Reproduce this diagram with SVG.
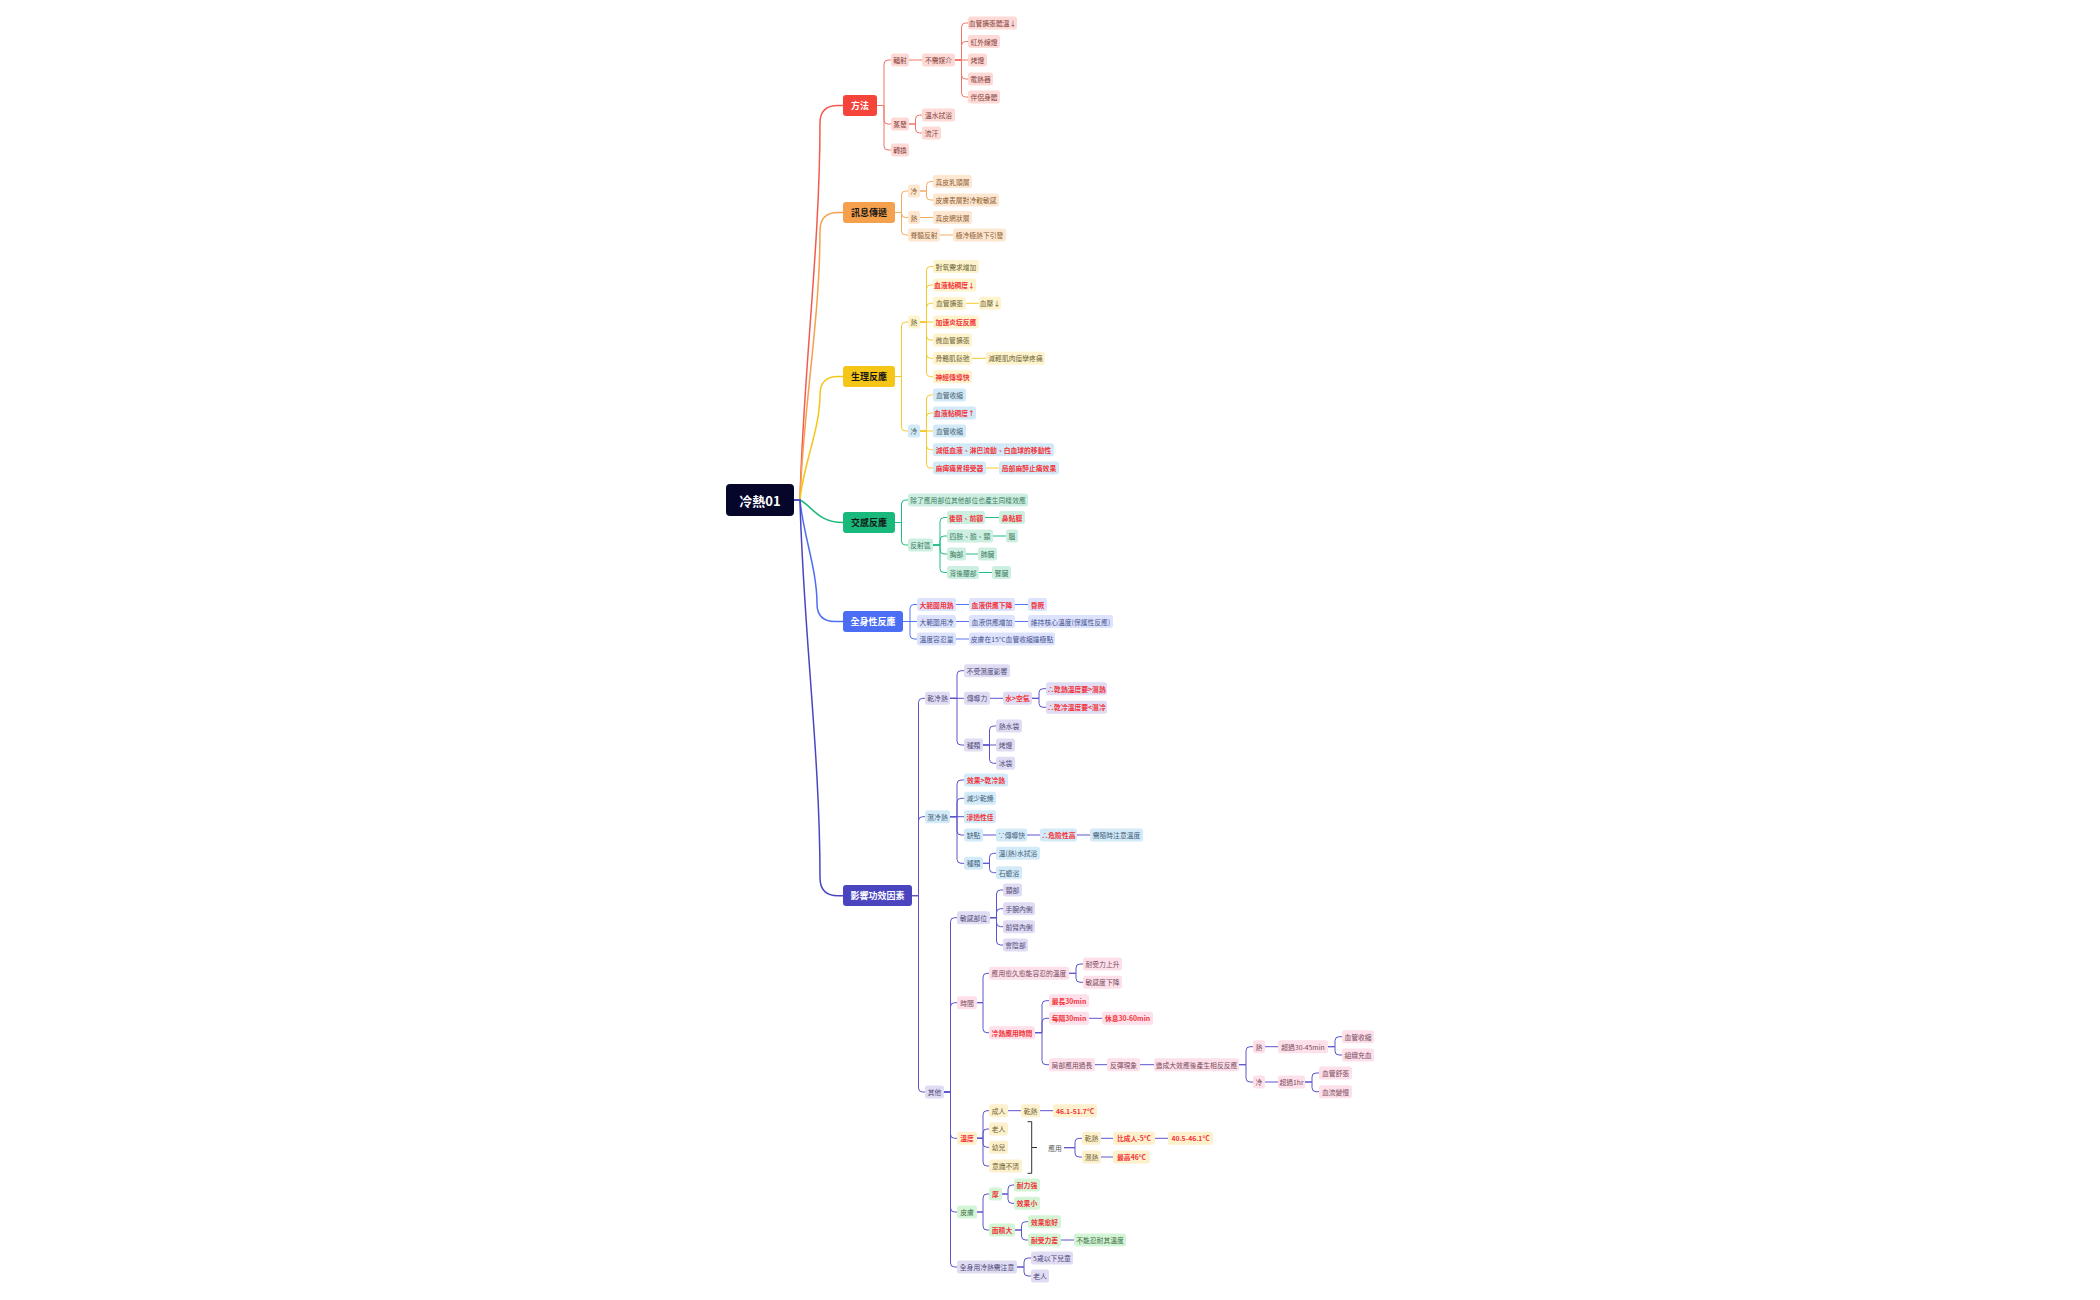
<svg xmlns="http://www.w3.org/2000/svg" width="2100" height="1300" viewBox="0 0 2100 1300">
<style>
text{font-family:"Noto Sans CJK TC","Noto Sans CJK SC",sans-serif;font-size:6.8px;text-anchor:middle;dominant-baseline:central}
.nd rect{rx:2.5px;ry:2.5px}
.main rect{rx:3px;ry:3px}
.main text{font-size:9px;font-weight:700}
.wt text{fill:#ffffff}
.bk text{fill:#161616}
.r rect{fill:#fddad6}.r text{fill:#86403a}
.o rect{fill:#fde7d1}.o text{fill:#8d5e33}
.y rect{fill:#fdf3cd}.y text{fill:#6e6435}
.b rect{fill:#d2eaf7}.b text{fill:#46606e}
.g rect{fill:#cdefe1}.g text{fill:#3a7a5e}
.bl rect{fill:#dde3fd}.bl text{fill:#45518f}
.p rect{fill:#e0dcf3}.p text{fill:#4f4a78}
.lb rect{fill:#d3ebf8}.lb text{fill:#43607a}
.k rect{fill:#fde0e9}.k text{fill:#7a4a5e}
.t rect{fill:#fdf0cc}.t text{fill:#6e6435}
.gr rect{fill:#d3f4d5}.gr text{fill:#3f6e45}
.nd text.rd{fill:#f2353b;font-weight:700}
#connectors path{fill:none;stroke-width:1}
#connectors .mainline path{stroke-width:1.5}
</style>
<rect width="2100" height="1300" fill="#ffffff"/>
<g id="connectors">
<g class="mainline">
<path d="M794 500 H800 C803 375 820 247 820 123 Q820 105.5 838 105.5 H843" stroke="#f35b4f"/>
<path d="M794 500 H800 C803 411 820 320 820 230.5 Q820 212.5 838 212.5 H843" stroke="#f5a04e"/>
<path d="M794 500 H800 C803 465 820 430 820 394.5 Q820 376.5 838 376.5 H843" stroke="#f5c518"/>
<path d="M794 500 H800 C812 506 818 522.5 843 522.5" stroke="#1cb87a"/>
<path d="M794 500 H800 C803 534 817 569 817 603.5 Q817 621.5 835 621.5 H843" stroke="#4c6ef5"/>
<path d="M794 500 H800 C803 626 820 752 820 877.7 Q820 895.7 838 895.7 H843" stroke="#4b46c0"/>
</g>
<g stroke="#f37468">
<path d="M877 105.5 H884 V64 Q884 60 888 60 H891"/>
<path d="M877 105.5 H884 V120 Q884 124 888 124 H891"/>
<path d="M877 105.5 H884 V146 Q884 150 888 150 H891"/>
<path d="M909 60 H922"/>
<path d="M955 60 H961.5 V27 Q961.5 23 965.5 23 H968"/>
<path d="M955 60 H961.5 V45.5 Q961.5 41.5 965.5 41.5 H968"/>
<path d="M955 60 H968"/>
<path d="M955 60 H961.5 V75 Q961.5 79 965.5 79 H968"/>
<path d="M955 60 H961.5 V93 Q961.5 97 965.5 97 H968"/>
<path d="M909 124 H915.5 V119 Q915.5 115 919.5 115 H922"/>
<path d="M909 124 H915.5 V129 Q915.5 133 919.5 133 H922"/>
</g>
<g stroke="#f5aa62">
<path d="M895 212.5 H901.5 V195 Q901.5 191 905.5 191 H908"/>
<path d="M895 212.5 H901.5 V213.5 Q901.5 217.5 905.5 217.5 H908"/>
<path d="M895 212.5 H901.5 V231 Q901.5 235 905.5 235 H908"/>
<path d="M920 191 H926.5 V185.5 Q926.5 181.5 930.5 181.5 H933"/>
<path d="M920 191 H926.5 V196 Q926.5 200 930.5 200 H933"/>
<path d="M920 217.5 H933"/>
<path d="M940 235 H953"/>
</g>
<g stroke="#f5c92e">
<path d="M895 376.5 H901.5 V326 Q901.5 322 905.5 322 H908"/>
<path d="M895 376.5 H901.5 V427 Q901.5 431 905.5 431 H908"/>
<path d="M920 322 H926.5 V270.5 Q926.5 266.5 930.5 266.5 H933"/>
<path d="M920 322 H926.5 V289 Q926.5 285 930.5 285 H933"/>
<path d="M920 322 H926.5 V307.3 Q926.5 303.3 930.5 303.3 H933"/>
<path d="M920 322 H933"/>
<path d="M920 322 H926.5 V336 Q926.5 340 930.5 340 H933"/>
<path d="M920 322 H926.5 V354.3 Q926.5 358.3 930.5 358.3 H933"/>
<path d="M920 322 H926.5 V372.7 Q926.5 376.7 930.5 376.7 H933"/>
<path d="M920 431 H926.5 V399 Q926.5 395 930.5 395 H933"/>
<path d="M920 431 H926.5 V417 Q926.5 413 930.5 413 H933"/>
<path d="M920 431 H933"/>
<path d="M920 431 H926.5 V445.7 Q926.5 449.7 930.5 449.7 H933"/>
<path d="M920 431 H926.5 V464 Q926.5 468 930.5 468 H933"/>
<path d="M966 303.3 H979"/>
<path d="M972 358.3 H986"/>
<path d="M986 468 H999"/>
</g>
<g stroke="#22bd82">
<path d="M895 522.5 H901.5 V504 Q901.5 500 905.5 500 H908"/>
<path d="M895 522.5 H901.5 V541 Q901.5 545 905.5 545 H908"/>
<path d="M933 545 H940 V521.5 Q940 517.5 944 517.5 H947"/>
<path d="M933 545 H940 V540 Q940 536 944 536 H947"/>
<path d="M933 545 H940 V550 Q940 554 944 554 H947"/>
<path d="M933 545 H940 V568.5 Q940 572.5 944 572.5 H947"/>
<path d="M985 517.5 H999"/>
<path d="M993 536 H1006"/>
<path d="M966 554 H978"/>
<path d="M979 572.5 H992"/>
</g>
<g stroke="#5676f5">
<path d="M903 621.5 H910 V608.5 Q910 604.5 914 604.5 H917"/>
<path d="M903 621.5 H917"/>
<path d="M903 621.5 H910 V635 Q910 639 914 639 H917"/>
<path d="M956 604.5 H969"/>
<path d="M1015 604.5 H1028"/>
<path d="M956 621.5 H969"/>
<path d="M1015 621.5 H1028"/>
<path d="M956 639 H969"/>
</g>
<g stroke="#5d54cb">
<path d="M912 895.7 H918.5 V702.3 Q918.5 698.3 922.5 698.3 H925"/>
<path d="M912 895.7 H918.5 V820.7 Q918.5 816.7 922.5 816.7 H925"/>
<path d="M912 895.7 H918.5 V1088 Q918.5 1092 922.5 1092 H925"/>
<path d="M950 698.3 H957 V674.7 Q957 670.7 961 670.7 H964"/>
<path d="M950 698.3 H964"/>
<path d="M950 698.3 H957 V741 Q957 745 961 745 H964"/>
<path d="M990 698.3 H1003"/>
<path d="M1032 698.3 H1039 V692.7 Q1039 688.7 1043 688.7 H1046"/>
<path d="M1032 698.3 H1039 V703.3 Q1039 707.3 1043 707.3 H1046"/>
<path d="M983 745 H989.5 V730 Q989.5 726 993.5 726 H996"/>
<path d="M983 745 H996"/>
<path d="M983 745 H989.5 V759.3 Q989.5 763.3 993.5 763.3 H996"/>
<path d="M950 816.7 H957 V784 Q957 780 961 780 H964"/>
<path d="M950 816.7 H957 V802.3 Q957 798.3 961 798.3 H964"/>
<path d="M950 816.7 H964"/>
<path d="M950 816.7 H957 V831 Q957 835 961 835 H964"/>
<path d="M950 816.7 H957 V859.3 Q957 863.3 961 863.3 H964"/>
<path d="M983 835 H996"/>
<path d="M1027 835 H1040"/>
<path d="M1077 835 H1090"/>
<path d="M983 863.3 H989.5 V857.3 Q989.5 853.3 993.5 853.3 H996"/>
<path d="M983 863.3 H989.5 V868.7 Q989.5 872.7 993.5 872.7 H996"/>
<path d="M944 1092 H950.5 V921.7 Q950.5 917.7 954.5 917.7 H957"/>
<path d="M944 1092 H950.5 V1006.7 Q950.5 1002.7 954.5 1002.7 H957"/>
<path d="M944 1092 H950.5 V1134.3 Q950.5 1138.3 954.5 1138.3 H957"/>
<path d="M944 1092 H950.5 V1208 Q950.5 1212 954.5 1212 H957"/>
<path d="M944 1092 H950.5 V1263 Q950.5 1267 954.5 1267 H957"/>
<path d="M990 917.7 H996.5 V894 Q996.5 890 1000.5 890 H1003"/>
<path d="M990 917.7 H996.5 V912.7 Q996.5 908.7 1000.5 908.7 H1003"/>
<path d="M990 917.7 H996.5 V922.7 Q996.5 926.7 1000.5 926.7 H1003"/>
<path d="M990 917.7 H996.5 V941 Q996.5 945 1000.5 945 H1003"/>
<path d="M977 1002.7 H983 V977.3 Q983 973.3 987 973.3 H989"/>
<path d="M977 1002.7 H983 V1028.7 Q983 1032.7 987 1032.7 H989"/>
<path d="M1069 973.3 H1076 V968 Q1076 964 1080 964 H1083"/>
<path d="M1069 973.3 H1076 V978.3 Q1076 982.3 1080 982.3 H1083"/>
<path d="M1035 1032.7 H1042 V1004.7 Q1042 1000.7 1046 1000.7 H1049"/>
<path d="M1035 1032.7 H1042 V1022.3 Q1042 1018.3 1046 1018.3 H1049"/>
<path d="M1035 1032.7 H1042 V1060.7 Q1042 1064.7 1046 1064.7 H1049"/>
<path d="M1089 1018.3 H1102"/>
<path d="M1095 1064.7 H1107"/>
<path d="M1140 1064.7 H1154"/>
<path d="M1239 1064.7 H1246 V1050.7 Q1246 1046.7 1250 1046.7 H1253"/>
<path d="M1239 1064.7 H1246 V1078 Q1246 1082 1250 1082 H1253"/>
<path d="M1265 1046.7 H1278"/>
<path d="M1328 1046.7 H1335 V1040.7 Q1335 1036.7 1339 1036.7 H1342"/>
<path d="M1328 1046.7 H1335 V1051 Q1335 1055 1339 1055 H1342"/>
<path d="M1265 1082 H1278"/>
<path d="M1305 1082 H1312 V1077 Q1312 1073 1316 1073 H1319"/>
<path d="M1305 1082 H1312 V1087.7 Q1312 1091.7 1316 1091.7 H1319"/>
<path d="M977 1138.3 H983 V1114.7 Q983 1110.7 987 1110.7 H989"/>
<path d="M977 1138.3 H983 V1133 Q983 1129 987 1129 H989"/>
<path d="M977 1138.3 H983 V1143.3 Q983 1147.3 987 1147.3 H989"/>
<path d="M977 1138.3 H983 V1162 Q983 1166 987 1166 H989"/>
<path d="M1008 1110.7 H1021"/>
<path d="M1040 1110.7 H1053"/>
<path d="M1064 1147.7 H1075 V1142.3 Q1075 1138.3 1079 1138.3 H1082"/>
<path d="M1064 1147.7 H1075 V1153 Q1075 1157 1079 1157 H1082"/>
<path d="M1101 1138.3 H1113"/>
<path d="M1155 1138.3 H1168"/>
<path d="M1101 1157 H1113"/>
<path d="M977 1212 H983 V1198 Q983 1194 987 1194 H989"/>
<path d="M977 1212 H983 V1226 Q983 1230 987 1230 H989"/>
<path d="M1002 1194 H1008 V1189 Q1008 1185 1012 1185 H1014"/>
<path d="M1002 1194 H1008 V1199.3 Q1008 1203.3 1012 1203.3 H1014"/>
<path d="M1015 1230 H1021.5 V1225.7 Q1021.5 1221.7 1025.5 1221.7 H1028"/>
<path d="M1015 1230 H1021.5 V1236 Q1021.5 1240 1025.5 1240 H1028"/>
<path d="M1061 1240 H1074"/>
<path d="M1017 1267 H1024 V1262 Q1024 1258 1028 1258 H1031"/>
<path d="M1017 1267 H1024 V1272 Q1024 1276 1028 1276 H1031"/>
</g>
<path id="bracket" d="M1027.5 1121.7 H1031.7 V1173.3 H1027.5 M1031.7 1147.5 H1037" stroke="#333333"/>
</g>

<g id="root"><rect x="726" y="484" width="68" height="32" rx="4" fill="#06062b"/><text x="760" y="500" style="font-size:13px;font-weight:700;fill:#ffffff">冷熱01</text></g>

<g id="b1" class="nd main wt"><rect x="843" y="95" width="34" height="21" fill="#f5453a"/><text x="860" y="105.5">方法</text></g>
<g id="b2" class="nd main bk"><rect x="843" y="202" width="52" height="21" fill="#f5a04c"/><text x="869" y="212.5">訊息傳遞</text></g>
<g id="b3" class="nd main bk"><rect x="843" y="366" width="52" height="21" fill="#f5c518"/><text x="869" y="376.5">生理反應</text></g>
<g id="b4" class="nd main bk"><rect x="843" y="512" width="52" height="21" fill="#19b97c"/><text x="869" y="522.5">交感反應</text></g>
<g id="b5" class="nd main wt"><rect x="843" y="611" width="60" height="21" fill="#4b6ef5"/><text x="873" y="621.5">全身性反應</text></g>
<g id="b6" class="nd main wt"><rect x="843" y="885" width="69" height="21" fill="#4a45bf"/><text x="877.5" y="895.7">影響功效因素</text></g>

<g id="n101" class="nd r"><rect x="891" y="53.5" width="18" height="13"/><text x="900" y="60">輻射</text></g>
<g id="n102" class="nd r"><rect x="922" y="53.5" width="33" height="13"/><text x="938.5" y="60">不需媒介</text></g>
<g id="n103" class="nd r"><rect x="968" y="16.5" width="49" height="13"/><text x="992.5" y="23">血管擴張體溫↓</text></g>
<g id="n104" class="nd r"><rect x="968" y="35" width="32" height="13"/><text x="984" y="41.5">紅外線燈</text></g>
<g id="n105" class="nd r"><rect x="968" y="53.5" width="19" height="13"/><text x="977.5" y="60">烤燈</text></g>
<g id="n106" class="nd r"><rect x="968" y="72.5" width="25" height="13"/><text x="980.5" y="79">電熱器</text></g>
<g id="n107" class="nd r"><rect x="968" y="90.5" width="32" height="13"/><text x="984" y="97">伴侶身體</text></g>
<g id="n108" class="nd r"><rect x="891" y="117.5" width="18" height="13"/><text x="900" y="124">蒸發</text></g>
<g id="n109" class="nd r"><rect x="922" y="108.5" width="33" height="13"/><text x="938.5" y="115">溫水拭浴</text></g>
<g id="n110" class="nd r"><rect x="922" y="126.5" width="19" height="13"/><text x="931.5" y="133">流汗</text></g>
<g id="n111" class="nd r"><rect x="891" y="143.5" width="18" height="13"/><text x="900" y="150">轉換</text></g>

<g id="n201" class="nd o"><rect x="908" y="184.5" width="12" height="13"/><text x="914" y="191">冷</text></g>
<g id="n202" class="nd o"><rect x="908" y="211" width="12" height="13"/><text x="914" y="217.5">熱</text></g>
<g id="n203" class="nd o"><rect x="908" y="228.5" width="32" height="13"/><text x="924" y="235">脊髓反射</text></g>
<g id="n204" class="nd o"><rect x="933" y="175" width="39" height="13"/><text x="952.5" y="181.5">真皮乳頭層</text></g>
<g id="n205" class="nd o"><rect x="933" y="193.5" width="66" height="13"/><text x="966" y="200">皮膚表層對冷較敏感</text></g>
<g id="n206" class="nd o"><rect x="933" y="211" width="39" height="13"/><text x="952.5" y="217.5">真皮網狀層</text></g>
<g id="n207" class="nd o"><rect x="953" y="228.5" width="53" height="13"/><text x="979.5" y="235">極冷極熱下引發</text></g>

<g id="n301" class="nd y"><rect x="908" y="315.5" width="12" height="13"/><text x="914" y="322">熱</text></g>
<g id="n302" class="nd y"><rect x="933" y="260" width="46" height="13"/><text x="956" y="266.5">對氧需求增加</text></g>
<g id="n303" class="nd y"><rect x="933" y="278.5" width="43" height="13"/><text class="rd" x="954.5" y="285">血液黏稠度↓</text></g>
<g id="n304" class="nd y"><rect x="933" y="296.8" width="33" height="13"/><text x="949.5" y="303.3">血管擴張</text></g>
<g id="n305" class="nd y"><rect x="979" y="296.8" width="22" height="13"/><text x="990" y="303.3">血壓↓</text></g>
<g id="n306" class="nd y"><rect x="933" y="315.5" width="46" height="13"/><text class="rd" x="956" y="322">加速炎症反應</text></g>
<g id="n307" class="nd y"><rect x="933" y="333.5" width="39" height="13"/><text x="952.5" y="340">微血管擴張</text></g>
<g id="n308" class="nd y"><rect x="933" y="351.8" width="39" height="13"/><text x="952.5" y="358.3">骨骼肌鬆弛</text></g>
<g id="n309" class="nd y"><rect x="986" y="351.8" width="59" height="13"/><text x="1015.5" y="358.3">減輕肌肉痙攣疼痛</text></g>
<g id="n310" class="nd y"><rect x="933" y="370.2" width="39" height="13"/><text class="rd" x="952.5" y="376.7">神經傳導快</text></g>
<g id="n311" class="nd b"><rect x="908" y="424.5" width="12" height="13"/><text x="914" y="431">冷</text></g>
<g id="n312" class="nd b"><rect x="933" y="388.5" width="33" height="13"/><text x="949.5" y="395">血管收縮</text></g>
<g id="n313" class="nd b"><rect x="933" y="406.5" width="43" height="13"/><text class="rd" x="954.5" y="413">血液黏稠度↑</text></g>
<g id="n314" class="nd b"><rect x="933" y="424.5" width="33" height="13"/><text x="949.5" y="431">血管收縮</text></g>
<g id="n315" class="nd b"><rect x="933" y="443.2" width="121" height="13"/><text class="rd" x="993.5" y="449.7">減低血液、淋巴流動、白血球的移動性</text></g>
<g id="n316" class="nd b"><rect x="933" y="461.5" width="53" height="13"/><text class="rd" x="959.5" y="468">麻痺痛覺接受器</text></g>
<g id="n317" class="nd b"><rect x="999" y="461.5" width="60" height="13"/><text class="rd" x="1029" y="468">局部麻醉止痛效果</text></g>

<g id="n401" class="nd g"><rect x="908" y="493.5" width="120" height="13"/><text x="968" y="500">除了應用部位其他部位也產生同樣效應</text></g>
<g id="n402" class="nd g"><rect x="908" y="538.5" width="25" height="13"/><text x="920.5" y="545">反射區</text></g>
<g id="n403" class="nd g"><rect x="947" y="511" width="38" height="13"/><text class="rd" x="966" y="517.5">後頸、前額</text></g>
<g id="n404" class="nd g"><rect x="999" y="511" width="26" height="13"/><text class="rd" x="1012" y="517.5">鼻黏膜</text></g>
<g id="n405" class="nd g"><rect x="947" y="529.5" width="46" height="13"/><text x="970" y="536">四肢、臉、頸</text></g>
<g id="n406" class="nd g"><rect x="1006" y="529.5" width="12" height="13"/><text x="1012" y="536">腦</text></g>
<g id="n407" class="nd g"><rect x="947" y="547.5" width="19" height="13"/><text x="956.5" y="554">胸部</text></g>
<g id="n408" class="nd g"><rect x="978" y="547.5" width="19" height="13"/><text x="987.5" y="554">肺臟</text></g>
<g id="n409" class="nd g"><rect x="947" y="566" width="32" height="13"/><text x="963" y="572.5">背後腰部</text></g>
<g id="n410" class="nd g"><rect x="992" y="566" width="19" height="13"/><text x="1001.5" y="572.5">腎臟</text></g>

<g id="n501" class="nd bl"><rect x="917" y="598" width="39" height="13"/><text class="rd" x="936.5" y="604.5">大範圍用熱</text></g>
<g id="n502" class="nd bl"><rect x="969" y="598" width="46" height="13"/><text class="rd" x="992" y="604.5">血液供應下降</text></g>
<g id="n503" class="nd bl"><rect x="1028" y="598" width="19" height="13"/><text class="rd" x="1037.5" y="604.5">昏厥</text></g>
<g id="n504" class="nd bl"><rect x="917" y="615" width="39" height="13"/><text x="936.5" y="621.5">大範圍用冷</text></g>
<g id="n505" class="nd bl"><rect x="969" y="615" width="46" height="13"/><text x="992" y="621.5">血液供應增加</text></g>
<g id="n506" class="nd bl"><rect x="1028" y="615" width="85" height="13"/><text x="1070.5" y="621.5">維持核心溫度(保護性反應)</text></g>
<g id="n507" class="nd bl"><rect x="917" y="632.5" width="39" height="13"/><text x="936.5" y="639">溫度容忍量</text></g>
<g id="n508" class="nd bl"><rect x="969" y="632.5" width="86" height="13"/><text x="1012" y="639">皮膚在15°C血管收縮達極點</text></g>

<g id="n601" class="nd p"><rect x="925" y="691.8" width="25" height="13"/><text x="937.5" y="698.3">乾冷熱</text></g>
<g id="n602" class="nd p"><rect x="964" y="664.2" width="46" height="13"/><text x="987" y="670.7">不受濕度影響</text></g>
<g id="n603" class="nd p"><rect x="964" y="691.8" width="26" height="13"/><text x="977" y="698.3">傳導力</text></g>
<g id="n604" class="nd p"><rect x="1003" y="691.8" width="29" height="13"/><text class="rd" x="1017.5" y="698.3">水&gt;空氣</text></g>
<g id="n605" class="nd p"><rect x="1046" y="682.2" width="61" height="13"/><text class="rd" x="1076.5" y="688.7">∴乾熱溫度要&gt;濕熱</text></g>
<g id="n606" class="nd p"><rect x="1046" y="700.8" width="61" height="13"/><text class="rd" x="1076.5" y="707.3">∴乾冷溫度要&lt;濕冷</text></g>
<g id="n607" class="nd p"><rect x="964" y="738.5" width="19" height="13"/><text x="973.5" y="745">種類</text></g>
<g id="n608" class="nd p"><rect x="996" y="719.5" width="26" height="13"/><text x="1009" y="726">熱水袋</text></g>
<g id="n609" class="nd p"><rect x="996" y="738.5" width="19" height="13"/><text x="1005.5" y="745">烤燈</text></g>
<g id="n610" class="nd p"><rect x="996" y="756.8" width="19" height="13"/><text x="1005.5" y="763.3">冰袋</text></g>

<g id="n611" class="nd lb"><rect x="925" y="810.2" width="25" height="13"/><text x="937.5" y="816.7">濕冷熱</text></g>
<g id="n612" class="nd lb"><rect x="964" y="773.5" width="44" height="13"/><text class="rd" x="986" y="780">效果&gt;乾冷熱</text></g>
<g id="n613" class="nd lb"><rect x="964" y="791.8" width="32" height="13"/><text x="980" y="798.3">減少乾燥</text></g>
<g id="n614" class="nd lb"><rect x="964" y="810.2" width="32" height="13"/><text class="rd" x="980" y="816.7">滲透性佳</text></g>
<g id="n615" class="nd lb"><rect x="964" y="828.5" width="19" height="13"/><text x="973.5" y="835">缺點</text></g>
<g id="n616" class="nd lb"><rect x="996" y="828.5" width="31" height="13"/><text x="1011.5" y="835">∵傳導快</text></g>
<g id="n617" class="nd lb"><rect x="1040" y="828.5" width="37" height="13"/><text class="rd" x="1058.5" y="835">∴危險性高</text></g>
<g id="n618" class="nd lb"><rect x="1090" y="828.5" width="53" height="13"/><text x="1116.5" y="835">需隨時注意溫度</text></g>
<g id="n619" class="nd lb"><rect x="964" y="856.8" width="19" height="13"/><text x="973.5" y="863.3">種類</text></g>
<g id="n620" class="nd lb"><rect x="996" y="846.8" width="44" height="13"/><text x="1018" y="853.3">溫(熱)水拭浴</text></g>
<g id="n621" class="nd lb"><rect x="996" y="866.2" width="26" height="13"/><text x="1009" y="872.7">石蠟浴</text></g>

<g id="n622" class="nd p"><rect x="925" y="1085.5" width="19" height="13"/><text x="934.5" y="1092">其他</text></g>
<g id="n623" class="nd p"><rect x="957" y="911.2" width="33" height="13"/><text x="973.5" y="917.7">敏感部位</text></g>
<g id="n624" class="nd p"><rect x="1003" y="883.5" width="19" height="13"/><text x="1012.5" y="890">頸部</text></g>
<g id="n625" class="nd p"><rect x="1003" y="902.2" width="32" height="13"/><text x="1019" y="908.7">手腕內側</text></g>
<g id="n626" class="nd p"><rect x="1003" y="920.2" width="32" height="13"/><text x="1019" y="926.7">前臂內側</text></g>
<g id="n627" class="nd p"><rect x="1003" y="938.5" width="25" height="13"/><text x="1015.5" y="945">會陰部</text></g>

<g id="n628" class="nd k"><rect x="957" y="996.2" width="20" height="13"/><text x="967" y="1002.7">時間</text></g>
<g id="n629" class="nd k"><rect x="989" y="966.8" width="80" height="13"/><text x="1029" y="973.3">應用愈久愈能容忍的溫度</text></g>
<g id="n630" class="nd k"><rect x="1083" y="957.5" width="39" height="13"/><text x="1102.5" y="964">耐受力上升</text></g>
<g id="n631" class="nd k"><rect x="1083" y="975.8" width="39" height="13"/><text x="1102.5" y="982.3">敏感度下降</text></g>
<g id="n632" class="nd k"><rect x="989" y="1026.2" width="46" height="13"/><text class="rd" x="1012" y="1032.7">冷熱應用時間</text></g>
<g id="n633" class="nd k"><rect x="1049" y="994.2" width="40" height="13"/><text class="rd" x="1069" y="1000.7">最長30min</text></g>
<g id="n634" class="nd k"><rect x="1049" y="1011.8" width="40" height="13"/><text class="rd" x="1069" y="1018.3">每隔30min</text></g>
<g id="n635" class="nd k"><rect x="1102" y="1011.8" width="51" height="13"/><text class="rd" x="1127.5" y="1018.3">休息30-60min</text></g>
<g id="n636" class="nd k"><rect x="1049" y="1058.2" width="46" height="13"/><text x="1072" y="1064.7">局部應用過長</text></g>
<g id="n637" class="nd k"><rect x="1107" y="1058.2" width="33" height="13"/><text x="1123.5" y="1064.7">反彈現象</text></g>
<g id="n638" class="nd k"><rect x="1154" y="1058.2" width="85" height="13"/><text x="1196.5" y="1064.7">造成大效應後產生相反反應</text></g>
<g id="n639" class="nd k"><rect x="1253" y="1040.2" width="12" height="13"/><text x="1259" y="1046.7">熱</text></g>
<g id="n640" class="nd k"><rect x="1278" y="1040.2" width="50" height="13"/><text x="1303" y="1046.7">超過30-45min</text></g>
<g id="n641" class="nd k"><rect x="1342" y="1030.2" width="32" height="13"/><text x="1358" y="1036.7">血管收縮</text></g>
<g id="n642" class="nd k"><rect x="1342" y="1048.5" width="32" height="13"/><text x="1358" y="1055">組織充血</text></g>
<g id="n643" class="nd k"><rect x="1253" y="1075.5" width="12" height="13"/><text x="1259" y="1082">冷</text></g>
<g id="n644" class="nd k"><rect x="1278" y="1075.5" width="27" height="13"/><text x="1291.5" y="1082">超過1hr</text></g>
<g id="n645" class="nd k"><rect x="1319" y="1066.5" width="33" height="13"/><text x="1335.5" y="1073">血管舒張</text></g>
<g id="n646" class="nd k"><rect x="1319" y="1085.2" width="33" height="13"/><text x="1335.5" y="1091.7">血流變慢</text></g>

<g id="n647" class="nd t"><rect x="957" y="1131.8" width="20" height="13"/><text class="rd" x="967" y="1138.3">溫度</text></g>
<g id="n648" class="nd t"><rect x="989" y="1104.2" width="19" height="13"/><text x="998.5" y="1110.7">成人</text></g>
<g id="n649" class="nd t"><rect x="1021" y="1104.2" width="19" height="13"/><text x="1030.5" y="1110.7">乾熱</text></g>
<g id="n650" class="nd t"><rect x="1053" y="1104.2" width="44" height="13"/><text class="rd" x="1075" y="1110.7">46.1-51.7°C</text></g>
<g id="n651" class="nd t"><rect x="989" y="1122.5" width="19" height="13"/><text x="998.5" y="1129">老人</text></g>
<g id="n652" class="nd t"><rect x="989" y="1140.8" width="19" height="13"/><text x="998.5" y="1147.3">幼兒</text></g>
<g id="n653" class="nd t"><rect x="989" y="1159.5" width="33" height="13"/><text x="1005.5" y="1166">意識不清</text></g>
<g id="n654"><text x="1055" y="1147.7" style="fill:#555555">應用</text></g>
<g id="n655" class="nd t"><rect x="1082" y="1131.8" width="19" height="13"/><text x="1091.5" y="1138.3">乾熱</text></g>
<g id="n656" class="nd t"><rect x="1113" y="1131.8" width="42" height="13"/><text class="rd" x="1134" y="1138.3">比成人-5°C</text></g>
<g id="n657" class="nd t"><rect x="1168" y="1131.8" width="45" height="13"/><text class="rd" x="1190.5" y="1138.3">40.5-46.1°C</text></g>
<g id="n658" class="nd t"><rect x="1082" y="1150.5" width="19" height="13"/><text x="1091.5" y="1157">濕熱</text></g>
<g id="n659" class="nd t"><rect x="1113" y="1150.5" width="37" height="13"/><text class="rd" x="1131.5" y="1157">最高46°C</text></g>

<g id="n660" class="nd gr"><rect x="957" y="1205.5" width="20" height="13"/><text x="967" y="1212">皮膚</text></g>
<g id="n661" class="nd gr"><rect x="989" y="1187.5" width="13" height="13"/><text class="rd" x="995.5" y="1194">厚</text></g>
<g id="n662" class="nd gr"><rect x="1014" y="1178.5" width="26" height="13"/><text class="rd" x="1027" y="1185">耐力強</text></g>
<g id="n663" class="nd gr"><rect x="1014" y="1196.8" width="26" height="13"/><text class="rd" x="1027" y="1203.3">效果小</text></g>
<g id="n664" class="nd gr"><rect x="989" y="1223.5" width="26" height="13"/><text class="rd" x="1002" y="1230">面積大</text></g>
<g id="n665" class="nd gr"><rect x="1028" y="1215.2" width="33" height="13"/><text class="rd" x="1044.5" y="1221.7">效果愈好</text></g>
<g id="n666" class="nd gr"><rect x="1028" y="1233.5" width="33" height="13"/><text class="rd" x="1044.5" y="1240">耐受力差</text></g>
<g id="n667" class="nd gr"><rect x="1074" y="1233.5" width="52" height="13"/><text x="1100" y="1240">不能忍耐其溫度</text></g>

<g id="n668" class="nd p"><rect x="957" y="1260.5" width="60" height="13"/><text x="987" y="1267">全身用冷熱需注意</text></g>
<g id="n669" class="nd p"><rect x="1031" y="1251.5" width="42" height="13"/><text x="1052" y="1258">5歲以下兒童</text></g>
<g id="n670" class="nd p"><rect x="1031" y="1269.5" width="18" height="13"/><text x="1040" y="1276">老人</text></g>
</svg>
